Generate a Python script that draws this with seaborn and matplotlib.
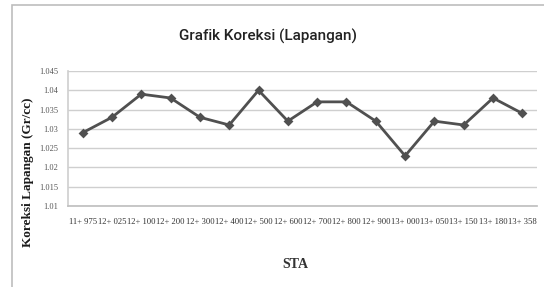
import matplotlib
matplotlib.use("Agg")
import matplotlib.pyplot as plt
import seaborn as sns
import pandas as pd
from matplotlib.patches import Rectangle

sta = ["11+ 975", "12+ 025", "12+ 100", "12+ 200", "12+ 300", "12+ 400", "12+ 500", "12+ 600",
       "12+ 700", "12+ 800", "12+ 900", "13+ 000", "13+ 050", "13+ 150", "13+ 180", "13+ 358"]
koreksi = [1.029, 1.033, 1.039, 1.038, 1.033, 1.031, 1.040, 1.032,
           1.037, 1.037, 1.032, 1.023, 1.032, 1.031, 1.038, 1.034]
yticks = [1.01, 1.015, 1.02, 1.025, 1.03, 1.035, 1.04, 1.045]
ytick_labels = ["1.01", "1.015", "1.02", "1.025", "1.03", "1.035", "1.04", "1.045"]

df = pd.DataFrame({"STA": sta, "Koreksi": koreksi})

sns.set_theme(style="white")
plt.rcParams['font.family'] = ['Liberation Serif', 'DejaVu Serif']

W, H = 544, 287
fig = plt.figure(figsize=(W / 100, H / 100), dpi=100)
fig.patch.set_facecolor("white")

# chart area border (right and bottom edges lie outside the image)
fig.patches.append(Rectangle((12 / W, -0.05), 1.0, 1 - 5 / H + 0.05, transform=fig.transFigure,
                             fill=False, edgecolor="#bdbdbd", linewidth=1.2))

ax = fig.add_axes([68 / W, 1 - 206 / H, (537 - 68) / W, (206 - 71) / H])
sns.pointplot(data=df, x="STA", y="Koreksi", ax=ax, color="#505050", markers="D",
              markersize=3.5, linewidth=2.0, errorbar=None)

ax.set_ylim(1.01, 1.045)
ax.set_xlim(-0.5, len(sta) - 0.5)
ax.set_yticks(yticks)
ax.set_yticklabels(ytick_labels, fontsize=6, color="#555555")
ax.set_xticks(range(len(sta)))
ax.set_xticklabels(sta, fontsize=6.2, color="#333333")
ax.tick_params(axis="x", length=0, pad=9)
ax.tick_params(axis="y", length=0, pad=7)
ax.grid(axis="y", color="#cfcfcf", linewidth=1.0)
ax.set_axisbelow(True)
for s in ["top", "right"]:
    ax.spines[s].set_visible(False)
ax.spines["left"].set_color("#d0d0d0")
ax.spines["bottom"].set_color("#c0c0c0")

ax.set_xlabel("STA", fontsize=10, fontweight="bold", color="#333333")
ax.xaxis.set_label_coords((295 - 68) / (537 - 68), -(258 - 206) / (206 - 71))
ax.set_ylabel("Koreksi Lapangan (Gr/cc)", fontsize=9.5, fontweight="bold", color="#1a1a1a")
ax.yaxis.set_label_coords(-(68 - 34) / (537 - 68), (206 - 172) / (206 - 71))

fig.text(268 / W, 1 - 36 / H, "Grafik Koreksi (Lapangan)", ha="center", va="center",
         fontsize=11, fontweight="medium", color="#222222", family=["Roboto", "DejaVu Sans"])

fig.savefig("out.png", dpi=100)
